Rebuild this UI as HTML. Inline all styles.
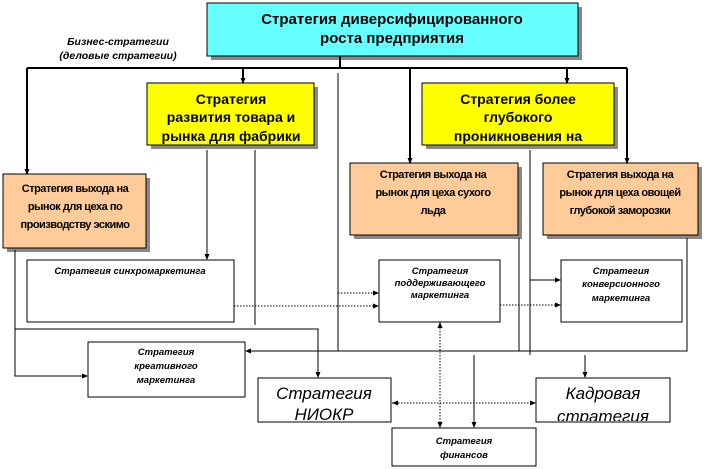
<!DOCTYPE html>
<html><head><meta charset="utf-8"><style>body{margin:0;background:#fff}svg{display:block}</style></head>
<body>
<svg width="704" height="469" viewBox="0 0 704 469" xmlns="http://www.w3.org/2000/svg" font-family="Liberation Sans, Arial, sans-serif">
<defs>
<marker id="a" markerUnits="userSpaceOnUse" markerWidth="6" markerHeight="6" refX="5" refY="3" orient="auto"><path d="M0,0.5 L6,3 L0,5.5z" fill="#000"/></marker>
<marker id="s" markerUnits="userSpaceOnUse" markerWidth="6" markerHeight="6" refX="0" refY="3" orient="auto"><path d="M6,0.5 L0,3 L6,5.5z" fill="#000"/></marker>
<clipPath id="c1"><rect x="148" y="84" width="165" height="60"/></clipPath>
<clipPath id="c2"><rect x="423" y="84" width="190" height="60"/></clipPath>
<clipPath id="c3"><rect x="537" y="379" width="132" height="42"/></clipPath>
<clipPath id="c4"><rect x="259" y="379" width="131" height="42"/></clipPath>
</defs>
<g fill="#888">
<rect x="211" y="7" width="371" height="53"/>
<rect x="151" y="87" width="167" height="62"/>
<rect x="426" y="87" width="192" height="62"/>
<rect x="7" y="178" width="143" height="74"/>
<rect x="354" y="167" width="168" height="72"/>
<rect x="547" y="167" width="155" height="72"/>
</g>
<rect x="207" y="3" width="371" height="53" fill="#66ffff" stroke="#000"/>
<rect x="147" y="83" width="167" height="62" fill="#ffff00" stroke="#000"/>
<rect x="422" y="83" width="192" height="62" fill="#ffff00" stroke="#000"/>
<rect x="3" y="174" width="143" height="74" fill="#ffcc99" stroke="#000"/>
<rect x="350" y="163" width="168" height="72" fill="#ffcc99" stroke="#000"/>
<rect x="543" y="163" width="155" height="72" fill="#ffcc99" stroke="#000"/>
<g fill="#fff" stroke="#000">
<rect x="27" y="260" width="207" height="62"/>
<rect x="379" y="260" width="121" height="62"/>
<rect x="561" y="260" width="121" height="62"/>
<rect x="88" y="342" width="157" height="55"/>
<rect x="258" y="378" width="133" height="44"/>
<rect x="536" y="378" width="134" height="44"/>
<rect x="392" y="428" width="144" height="38"/>
</g>
<g stroke="#000" stroke-width="2" fill="none">
<path d="M340,56 V68 M27,68 H627"/>
<path d="M27,68 V174" marker-end="url(#a)"/>
<path d="M243,68 V83" marker-end="url(#a)"/>
<path d="M410,68 V163" marker-end="url(#a)"/>
<path d="M567,68 V83" marker-end="url(#a)"/>
<path d="M627,68 V163" marker-end="url(#a)"/>
</g>
<g stroke="#000" stroke-width="1" fill="none">
<path d="M338,73 V351"/>
<path d="M207,150 V259" marker-end="url(#a)"/>
<path d="M255,150 V325"/>
<path d="M519,238 V351"/>
<path d="M530,150 V355"/>
<path d="M530,280 H560" marker-end="url(#a)"/>
<path d="M687,238 V351 H246" marker-end="url(#a)"/>
<path d="M15,250 V329 H318 V377" marker-end="url(#a)"/>
<path d="M15,329 V376 H87" marker-end="url(#a)"/>
<path d="M474,355 V427" marker-end="url(#a)"/>
<path d="M585,355 V377" marker-end="url(#a)"/>
</g>
<g stroke="#000" stroke-width="1" fill="none" stroke-dasharray="1.5,1.5">
<path d="M338,293 H378" marker-end="url(#a)"/>
<path d="M234,306 H378" marker-end="url(#a)"/>
<path d="M500,305 H560" marker-end="url(#a)"/>
<path d="M440,322 V427" marker-end="url(#a)" marker-start="url(#s)"/>
<path d="M392,403 H535" marker-end="url(#a)" marker-start="url(#s)"/>
</g>
<g text-anchor="middle" font-weight="bold">
<text x="392" y="24" font-size="15">Стратегия диверсифицированного</text>
<text x="392" y="43" font-size="15">роста предприятия</text>
<g font-size="14" clip-path="url(#c1)"><text x="231" y="104">Стратегия</text><text x="231" y="122">развития товара и</text><text x="231" y="141">рынка для фабрики</text></g>
<g font-size="14" clip-path="url(#c2)"><text x="518" y="104">Стратегия более</text><text x="518" y="122">глубокого</text><text x="518" y="141">проникновения на</text></g>
<g font-size="11" letter-spacing="-0.5"><text x="75" y="192">Стратегия выхода на</text><text x="75" y="210">рынок для цеха по</text><text x="75" y="228">производству эскимо</text>
<text x="433" y="178">Стратегия выхода на</text><text x="433" y="196">рынок для цеха сухого</text><text x="433" y="214">льда</text>
<text x="620" y="178">Стратегия выхода на</text><text x="620" y="196">рынок для цеха овощей</text><text x="620" y="214">глубокой заморозки</text></g>
<g font-style="italic" font-size="9.5">
<text x="118" y="45" font-size="10.5">Бизнес-стратегии</text><text x="118" y="59" font-size="10.5">(деловые стратегии)</text>
<text x="130" y="274" text-anchor="middle">Стратегия синхромаркетинга</text>
<text x="440" y="274">Стратегия</text><text x="440" y="286">поддерживающего</text><text x="440" y="298">маркетинга</text>
<text x="621" y="274">Стратегия</text><text x="621" y="287">конверсионного</text><text x="621" y="301">маркетинга</text>
<text x="166" y="355">Стратегия</text><text x="166" y="369">креативного</text><text x="166" y="383">маркетинга</text>
<text x="464" y="444">Стратегия</text><text x="464" y="458">финансов</text>
</g>
<g font-style="italic" font-weight="normal" font-size="17">
<g clip-path="url(#c4)"><text x="324" y="399">Стратегия</text><text x="324" y="420">НИОКР</text></g>
<g clip-path="url(#c3)"><text x="603" y="399">Кадровая</text><text x="603" y="422">стратегия</text></g>
</g>
</g>
</svg>
</body></html>
